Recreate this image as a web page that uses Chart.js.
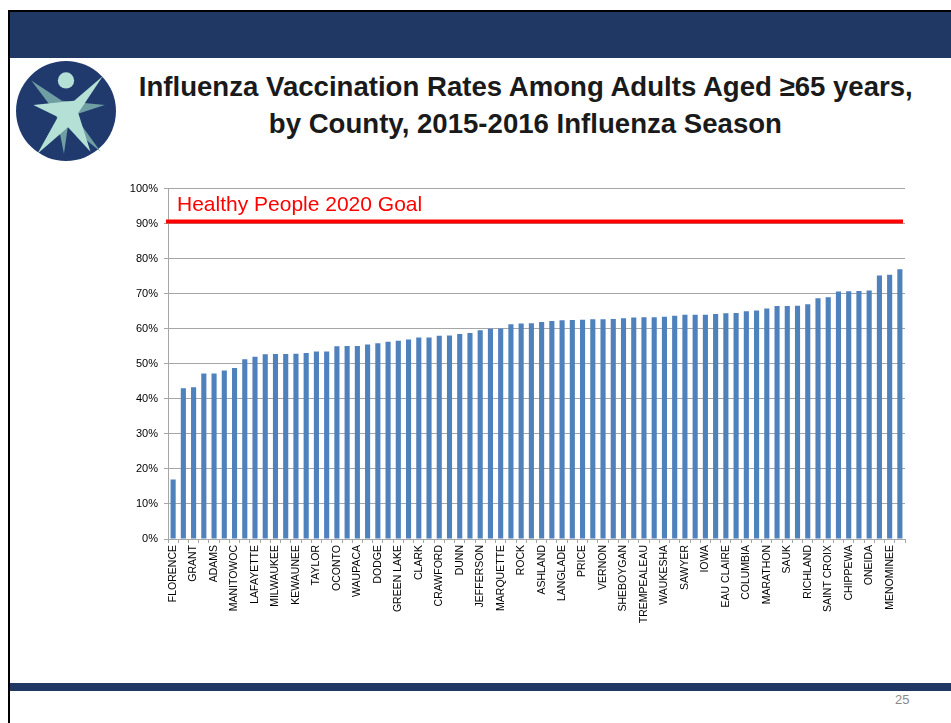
<!DOCTYPE html>
<html>
<head>
<meta charset="utf-8">
<script src="https://cdn.jsdelivr.net/npm/chart.js@4"></script>
<style>
  body { margin: 0; width: 951px; height: 723px; background: #fff; position: relative; overflow: hidden; font-family: "Liberation Sans", Arial, sans-serif; }
  .frame-top { position: absolute; left: 8px; top: 10px; width: 943px; height: 2px; background: #000; }
  .frame-left { position: absolute; left: 8px; top: 10px; width: 2px; height: 713px; background: #000; }
  .band { position: absolute; left: 10px; top: 12px; width: 941px; height: 46px; background: #1F3864; }
  .band-bottom { position: absolute; left: 10px; top: 683px; width: 941px; height: 8px; background: #1F3864; }
  .logo { position: absolute; left: 15px; top: 60px; width: 102px; height: 102px; }
  #title { position: absolute; left: 50px; top: 68px; width: 951px; text-align: center; font-weight: bold; font-size: 28px; line-height: 37px; color: #1a1a1a; white-space: nowrap; }
  #title span { display: inline-block; transform-origin: center; }
  .page { position: absolute; left: 895px; top: 692px; font-size: 13px; color: #8a8a8a; }
  #chartBox { position: absolute; left: 110px; top: 176px; width: 800px; height: 453px; }
</style>
</head>
<body>
<div class="frame-top"></div>
<div class="frame-left"></div>
<div class="band"></div>
<svg class="logo" viewBox="0 0 100 100">
  <ellipse cx="50" cy="50" rx="49" ry="49" fill="#203A6E"/>
  <polygon points="16,20 46,40 88,44 58,54 84,90 52,64 48,92 40,52" fill="#6F9EA3"/>
  <polygon points="86,16 58,40 18,44 42,56 22,92 52,66 74,90 62,52" fill="#B5E0D6"/>
  <circle cx="50" cy="20" r="8" fill="#B5E0D6"/>
</svg>
<div id="title"><span>Influenza Vaccination Rates Among Adults Aged ≥65 years,</span><br><span>by County, 2015-2016 Influenza Season</span></div>
<div id="chartBox"><canvas id="rateChart" width="800" height="453"></canvas></div>
<div class="band-bottom"></div>
<div class="page">25</div>
<script>
// counties sorted by rate, only every other name is printed on the slide
const counties = ["FLORENCE", "", "GRANT", "", "ADAMS", "", "MANITOWOC", "", "LAFAYETTE", "",
    "MILWAUKEE", "", "KEWAUNEE", "", "TAYLOR", "", "OCONTO", "", "WAUPACA", "",
    "DODGE", "", "GREEN LAKE", "", "CLARK", "", "CRAWFORD", "", "DUNN", "",
    "JEFFERSON", "", "MARQUETTE", "", "ROCK", "", "ASHLAND", "", "LANGLADE", "",
    "PRICE", "", "VERNON", "", "SHEBOYGAN", "", "TREMPEALEAU", "", "WAUKESHA", "",
    "SAWYER", "", "IOWA", "", "EAU CLAIRE", "", "COLUMBIA", "", "MARATHON", "",
    "SAUK", "", "RICHLAND", "", "SAINT CROIX", "", "CHIPPEWA", "", "ONEIDA", "",
    "MENOMINEE", ""];
const rates = [17.0, 43.0, 43.3, 47.2, 47.2, 48.1, 48.8, 51.3, 52.0, 52.7,
    52.8, 52.8, 52.9, 53.1, 53.5, 53.5, 55.0, 55.1, 55.1, 55.5,
    55.9, 56.3, 56.6, 56.9, 57.5, 57.5, 58.0, 58.1, 58.5, 58.8,
    59.6, 60.0, 60.1, 61.3, 61.5, 61.6, 61.9, 62.2, 62.4, 62.5,
    62.6, 62.7, 62.7, 62.8, 63.0, 63.2, 63.3, 63.3, 63.4, 63.7,
    64.0, 64.0, 64.0, 64.2, 64.4, 64.5, 65.0, 65.2, 65.8, 66.5,
    66.5, 66.6, 67.0, 68.7, 69.0, 70.6, 70.7, 70.8, 70.9, 75.2,
    75.4, 77.0];
const goalValue = 90.6;
const goalLabel = "Healthy People 2020 Goal";
const yTicks = [0, 10, 20, 30, 40, 50, 60, 70, 80, 90, 100];

// fit title lines to the slide width
const spans = document.querySelectorAll('#title span');
const sx = 774 / spans[0].getBoundingClientRect().width;
spans.forEach(s => s.style.transform = 'scaleX(' + sx + ')');

const goalLine = {
    id: 'goalLine',
    afterDatasetsDraw(chart) {
        const ctx = chart.ctx;
        const area = chart.chartArea;
        const y = chart.scales.y.getPixelForValue(goalValue);
        ctx.save();
        ctx.strokeStyle = "#FF0000";
        ctx.lineWidth = 4;
        ctx.beginPath();
        ctx.moveTo(area.left - 2, y);
        ctx.lineTo(area.right - 2, y);
        ctx.stroke();
        ctx.fillStyle = "#FF0000";
        ctx.font = '21px "Liberation Sans", Arial, sans-serif';
        ctx.textBaseline = "alphabetic";
        ctx.fillText(goalLabel, area.left + 9, y - 11);
        ctx.restore();
    }
};

new Chart("rateChart", {
    type: "bar",
    data: {
        labels: counties,
        datasets: [{
            data: rates,
            backgroundColor: "#4F81BD",
            borderWidth: 0,
            barPercentage: 0.5,
            categoryPercentage: 1.0
        }]
    },
    options: {
        responsive: false,
        animation: false,
        layout: { padding: { top: 10, right: 5, left: 0, bottom: 0 } },
        plugins: { legend: { display: false }, tooltip: { enabled: false } },
        scales: {
            x: {
                afterFit: s => { s.height = 90; s.paddingRight = 0; },
                grid: { offset: true, drawOnChartArea: false, drawTicks: true, tickLength: 4, color: "#A6A6A6" },
                border: { color: "#A6A6A6" },
                ticks: {
                    autoSkip: false, maxRotation: 90, minRotation: 90, padding: 2,
                    color: "#000", font: { size: 10.5, family: '"Liberation Sans", Arial, sans-serif' }
                }
            },
            y: {
                min: 0, max: 100,
                afterFit: s => { s.width = 58; },
                afterBuildTicks: s => { s.ticks = yTicks.map(v => ({ value: v })); },
                grid: { color: "#A6A6A6", tickLength: 4 },
                border: { color: "#A6A6A6" },
                ticks: {
                    padding: 6, color: "#000",
                    font: { size: 11, family: '"Liberation Sans", Arial, sans-serif' },
                    callback: v => v + "%"
                }
            }
        }
    },
    plugins: [goalLine]
});
</script>
</body>
</html>
